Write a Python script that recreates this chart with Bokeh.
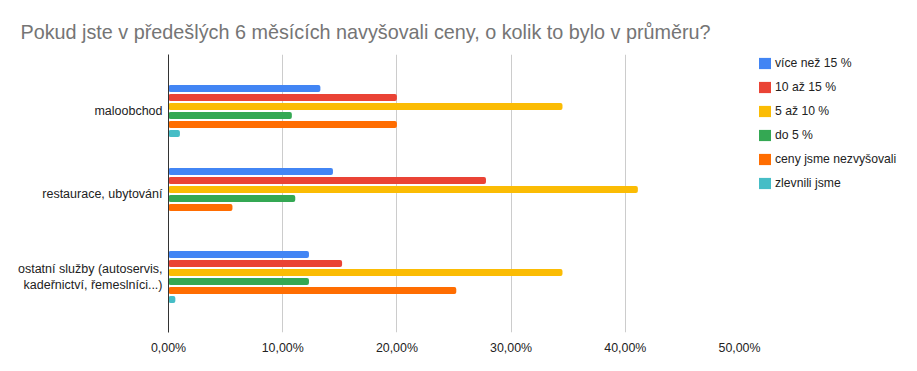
from bokeh.plotting import figure
from bokeh.models import ColumnDataSource, Range1d, FixedTicker, Legend, LegendItem
from bokeh.transform import dodge
from bokeh.embed import file_html
from bokeh.resources import INLINE

# ---- data (percent) ----
categories = ["maloobchod", "restaurace, ubytování",
              "ostatní služby (autoservis,\nkadeřnictví, řemeslníci...)"]
series_names = ["více než 15 %", "10 až 15 %", "5 až 10 %", "do 5 %",
                "ceny jsme nezvyšovali", "zlevnili jsme"]
vice_nez_15 = [13.3, 14.4, 12.3]
od_10_do_15 = [20.0, 27.8, 15.2]
od_5_do_10 = [34.5, 41.1, 34.5]
do_5 = [10.8, 11.1, 12.3]
nezvysovali = [20.0, 5.6, 25.2]
zlevnili = [1.0, 0.0, 0.6]
x_ticks = [0, 10, 20, 30, 40, 50]
x_tick_labels = ["0,00%", "10,00%", "20,00%", "30,00%", "40,00%", "50,00%"]
colors = ["#4285F4", "#EA4335", "#FBBC04", "#34A853", "#FF6D01", "#46BDC6"]

series_values = [vice_nez_15, od_10_do_15, od_5_do_10, do_5, nezvysovali, zlevnili]
n = len(categories)
ypos = [n - 1 - i for i in range(n)]  # first category on top

data = {"y": ypos}
keys = []
for i, vals in enumerate(series_values):
    k = f"s{i}"
    keys.append(k)
    data[k] = vals
source = ColumnDataSource(data)

p = figure(frame_width=571, frame_height=278, output_backend="svg", toolbar_location=None,
           x_range=Range1d(0, 50), y_range=Range1d(-0.67, n - 1 + 0.68),
           min_border_left=168, min_border_right=165, min_border_top=54,
           min_border_bottom=31)
p.outline_line_color = None
p.background_fill_color = "white"
p.border_fill_color = "white"

step = 0.1084
bar_h = 0.0843
items = []
for i, k in enumerate(keys):
    off = (2.5 - i) * step
    r = p.hbar(y=dodge("y", off), right=k, left=0, height=bar_h, source=source,
               fill_color=colors[i], line_color=None, border_radius=2)
    items.append(LegendItem(label=series_names[i], renderers=[r]))

# axes
p.xaxis.ticker = FixedTicker(ticks=x_ticks)
p.xaxis.major_label_overrides = dict(zip(x_ticks, x_tick_labels))
p.xaxis.axis_line_color = None
p.xaxis.major_tick_line_color = None
p.xaxis.major_tick_out = 0
p.xaxis.major_tick_in = 0
p.xaxis.minor_tick_line_color = None
p.xaxis.major_label_text_font = "Liberation Sans"
p.xaxis.major_label_text_font_size = "12.4px"
p.xaxis.major_label_text_color = "#222222"
p.xaxis.major_label_standoff = 8

p.yaxis.ticker = FixedTicker(ticks=ypos)
p.yaxis.major_label_overrides = dict(zip(ypos, categories))
p.yaxis.axis_line_color = "#333333"
p.yaxis.major_tick_line_color = None
p.yaxis.major_tick_out = 0
p.yaxis.major_tick_in = 0
p.yaxis.minor_tick_line_color = None
p.yaxis.major_label_text_font = "Liberation Sans"
p.yaxis.major_label_text_font_size = "12.5px"
p.yaxis.major_label_text_color = "#222222"
p.yaxis.major_label_standoff = 6

p.xgrid.grid_line_color = "#cccccc"
p.ygrid.grid_line_color = None

# title
p.title.text = "Pokud jste v předešlých 6 měsících navyšovali ceny, o kolik to bylo v průměru?"
p.title.text_font = "Liberation Sans"
p.title.text_font_size = "19.8px"
p.title.text_font_style = "normal"
p.title.text_color = "#757575"
p.title.align = "left"
p.title.offset = -148
p.title.standoff = 23

legend = Legend(items=items, location=(18, 142))
legend.label_text_font = "Liberation Sans"
legend.label_text_font_size = "12.2px"
legend.label_text_color = "#222222"
legend.glyph_width = 15
legend.glyph_height = 14
legend.label_height = 12
legend.spacing = 10
legend.padding = 0
legend.margin = 0
legend.label_standoff = 3
legend.border_line_color = None
legend.background_fill_alpha = 0
p.add_layout(legend, "right")

open("out.html", "w").write(file_html(p, INLINE))
